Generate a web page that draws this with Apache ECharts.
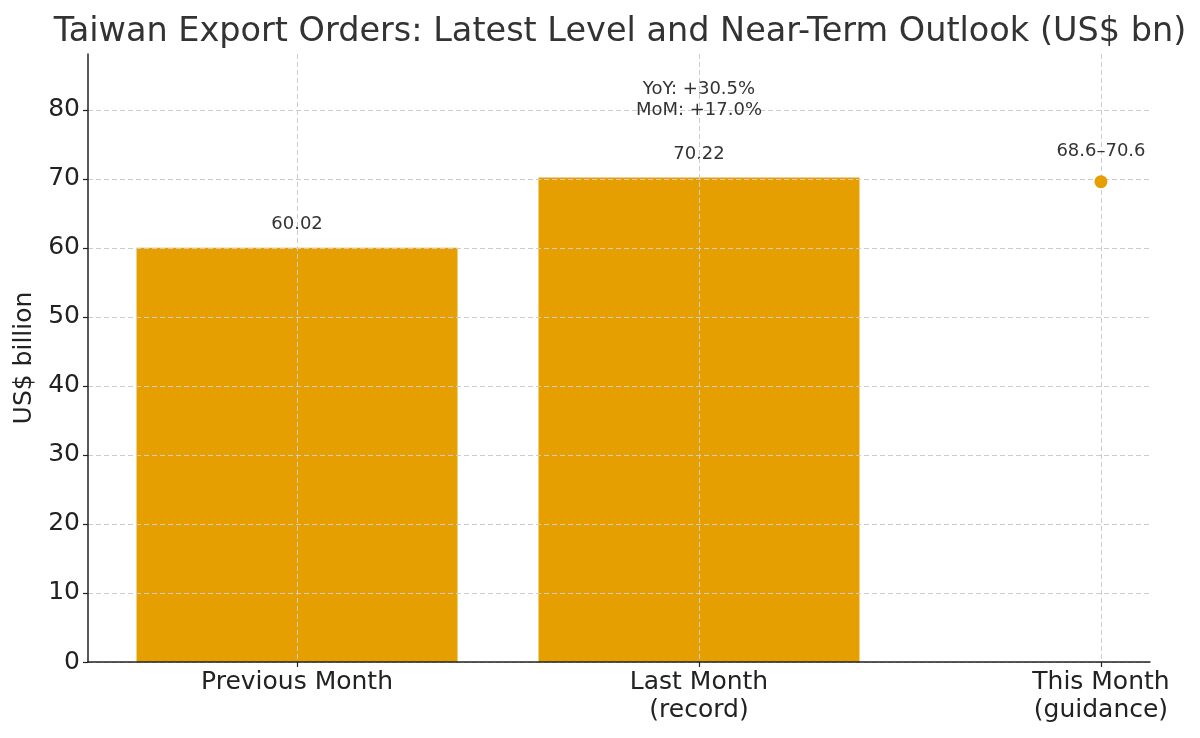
<!DOCTYPE html>
<html>
<head>
<meta charset="utf-8">
<script src="https://cdn.jsdelivr.net/npm/echarts@6/dist/echarts.min.js"></script>
<style>html,body{margin:0;padding:0;background:#fff}#c{width:1200px;height:738px}</style>
</head>
<body>
<div id="c"></div>
<script>
const categories = ['Previous Month', 'Last Month\n(record)', 'This Month\n(guidance)'];
const barValues = [60.02, 70.22];
const barLabels = ['60.02', '70.22'];
const guidanceLow = 68.6;
const guidanceHigh = 70.6;
const guidanceMid = 69.6;
const guidanceLabel = '68.6–70.6';
const noteText = 'YoY: +30.5%\nMoM: +17.0%';
const yTicks = [0, 10, 20, 30, 40, 50, 60, 70, 80];

const font = 'DejaVu Sans';
const orange = '#E69F00';
const textColor = '#333333';

const chart = echarts.init(document.getElementById('c'), null, {renderer: 'canvas'});
const catIdx = categories.map((_, i) => i);

chart.setOption({
  animation: false,
  backgroundColor: '#ffffff',
  title: {
    text: 'Taiwan Export Orders: Latest Level and Near-Term Outlook (US$ bn)',
    left: 615, top: 10, textAlign: 'center',
    textStyle: {fontFamily: font, fontSize: 33.5, fontWeight: 'normal', color: textColor}
  },
  grid: {left: 88, right: 50, top: 54, bottom: 76, containLabel: false, outerBoundsMode: 'none'},
  xAxis: {
    type: 'value', min: -0.52, max: 2.122, z: 3,
    axisLine: {show: true, onZero: false, lineStyle: {color: '#222', width: 1.5}},
    axisTick: {show: true, length: 5, customValues: catIdx, lineStyle: {color: '#222', width: 1.2}},
    axisLabel: {customValues: catIdx, margin: 6, fontFamily: font, fontSize: 25, color: '#222', lineHeight: 28,
      formatter: v => categories[Math.round(v)] || ''},
    splitLine: {show: true, lineStyle: {color: '#cccccc', type: [5, 3], width: 1}}
  },
  yAxis: {
    type: 'value', min: 0, max: 88.1, interval: 10, z: 3,
    name: 'US$ billion', nameLocation: 'middle', nameGap: 48, nameRotate: 90,
    nameTextStyle: {fontFamily: font, fontSize: 25, color: '#222'},
    axisLine: {show: true, onZero: false, lineStyle: {color: '#222', width: 1.5}},
    axisTick: {show: true, length: 5, lineStyle: {color: '#222', width: 1.2}},
    axisLabel: {margin: 8, fontFamily: font, fontSize: 25, color: '#222', showMaxLabel: false,
      formatter: v => (yTicks.indexOf(v) >= 0 ? String(v) : '')},
    splitLine: {show: true, showMaxLine: false, lineStyle: {color: '#cccccc', type: [5, 3], width: 1}}
  },
  series: [
    {
      type: 'bar', barWidth: 321, z: 1,
      itemStyle: {color: orange},
      data: barValues.map((v, i) => [i, v]),
      label: {show: true, position: 'top', distance: 14, fontFamily: font, fontSize: 18, color: textColor,
        formatter: p => barLabels[p.dataIndex]}
    },
    {
      type: 'scatter', symbolSize: 0, z: 5, silent: true,
      itemStyle: {opacity: 1},
      data: [[1, barValues[1]]],
      label: {show: true, position: 'top', distance: 57, fontFamily: font, fontSize: 18, color: textColor,
        lineHeight: 21, align: 'center', formatter: () => noteText}
    },
    {
      type: 'scatter', symbol: 'circle', symbolSize: 13, z: 5,
      itemStyle: {color: orange, opacity: 1},
      data: [[2, guidanceMid]],
      label: {show: true, position: 'top', distance: 15, fontFamily: font, fontSize: 18, color: textColor,
        formatter: () => guidanceLabel}
    }
  ]
});
</script>
</body>
</html>
